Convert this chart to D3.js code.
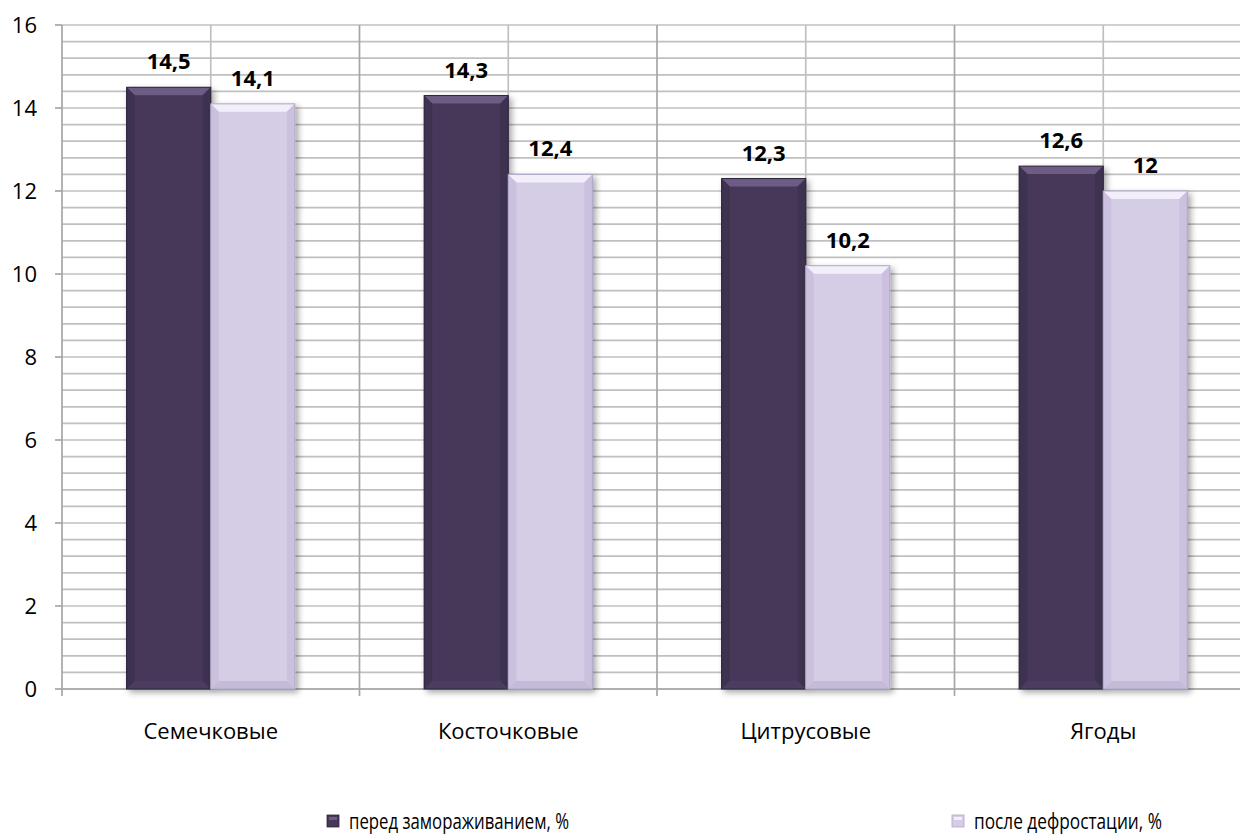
<!DOCTYPE html>
<html><head><meta charset="utf-8">
<script src="https://cdn.jsdelivr.net/npm/d3@7"></script>
<style>body{margin:0;background:#fff}svg{display:block;font-family:"Open Sans","Noto Sans",sans-serif}</style>
</head><body><svg id="c" width="1240" height="834"></svg>
<script>
const categories = ["Семечковые","Косточковые","Цитрусовые","Ягоды"];
const seriesNames = ["перед замораживанием, %","после дефростации, %"];
const beforeFreeze = [14.5,14.3,12.3,12.6];
const afterDefrost = [14.1,12.4,10.2,12];
const valueLabels = [["14,5","14,3","12,3","12,6"],["14,1","12,4","10,2","12"]];
const yTicks = [0,2,4,6,8,10,12,14,16];

const svg = d3.select("#c");
const L=62, R=1252, T=25, B=689;
const x0 = d3.scaleBand().domain(categories).range([L,R]).padding(0);
const x1 = d3.scaleBand().domain([0,1]).range([0,x0.bandwidth()]).paddingOuter(0.768).paddingInner(0);
const y = d3.scaleLinear().domain([0,16]).range([B,T]);

const defs = svg.append("defs");
const f = defs.append("filter").attr("id","sh").attr("x","-20%").attr("y","-10%").attr("width","150%").attr("height","130%");
f.append("feGaussianBlur").attr("in","SourceAlpha").attr("stdDeviation",3);
f.append("feOffset").attr("dx",3).attr("dy",3).attr("result","b");
f.append("feComponentTransfer").append("feFuncA").attr("type","linear").attr("slope",0.35);
const fm = f.append("feMerge"); fm.append("feMergeNode"); fm.append("feMergeNode").attr("in","SourceGraphic");

// minor gridlines
const minor = d3.range(0,16.001,0.4);
svg.append("g").selectAll("line").data(minor).join("line")
  .attr("x1",L).attr("x2",1240).attr("y1",d=>y(d)).attr("y2",d=>y(d))
  .attr("stroke","#c0c0c0").attr("stroke-width",1.7);
// vertical gridlines at centers and boundaries
svg.append("g").selectAll("line").data(categories).join("line")
  .attr("x1",d=>x0(d)+x0.bandwidth()/2).attr("x2",d=>x0(d)+x0.bandwidth()/2)
  .attr("y1",T).attr("y2",B).attr("stroke","#c0c0c0").attr("stroke-width",1.7);
svg.append("g").selectAll("line").data(categories.slice(1)).join("line")
  .attr("x1",d=>x0(d)).attr("x2",d=>x0(d))
  .attr("y1",T).attr("y2",B+7).attr("stroke","#a6a6a6").attr("stroke-width",1.7);
// axes
svg.append("line").attr("x1",L).attr("x2",L).attr("y1",T).attr("y2",B+7).attr("stroke","#a6a6a6").attr("stroke-width",1.7);
svg.append("line").attr("x1",L).attr("x2",1240).attr("y1",B).attr("y2",B).attr("stroke","#a6a6a6").attr("stroke-width",1.7);
svg.append("g").selectAll("line").data(yTicks).join("line")
  .attr("x1",L-7).attr("x2",L).attr("y1",d=>y(d)).attr("y2",d=>y(d)).attr("stroke","#a6a6a6").attr("stroke-width",1.7);
svg.append("g").selectAll("text").data(yTicks).join("text")
  .attr("x",37).attr("y",d=>y(d)).attr("dy","0.36em").attr("text-anchor","end")
  .attr("font-size",22).attr("fill","#000").text(d=>d);
svg.append("g").selectAll("text").data(categories).join("text")
  .attr("x",d=>x0(d)+x0.bandwidth()/2).attr("y",739).attr("text-anchor","middle")
  .attr("font-size",22).attr("fill","#000").text(d=>d);

const pal = [
  {main:"#46375a",top:"#6d5c84",side:"#3d304f",bot:"#4b3c60",edge:"#2f253d"},
  {main:"#d5cce6",top:"#f3effa",side:"#cbc1de",bot:"#c6bad9",edge:"#b3a6c8"}
];
const series=[beforeFreeze,afterDefrost];
series.forEach((vals,si)=>{
  const g = svg.append("g");
  categories.forEach((c,i)=>{
    const x = x0(c)+x1(si), w = x1.bandwidth(), yt=y(vals[i]), yb=y(0), h=yb-yt, b=8;
    const bg = g.append("g").attr("filter","url(#sh)");
    bg.append("rect").attr("x",x).attr("y",yt).attr("width",w).attr("height",h).attr("fill",pal[si].main);
    const p=pal[si];
    bg.append("polygon").attr("points",[[x,yt],[x+w,yt],[x+w-b,yt+b],[x+b,yt+b]].join(" ")).attr("fill",p.top);
    bg.append("polygon").attr("points",[[x,yt],[x+b,yt+b],[x+b,yb-b],[x,yb]].join(" ")).attr("fill",p.side);
    bg.append("polygon").attr("points",[[x+w,yt],[x+w-b,yt+b],[x+w-b,yb-b],[x+w,yb]].join(" ")).attr("fill",p.side);
    bg.append("polygon").attr("points",[[x,yb],[x+b,yb-b],[x+w-b,yb-b],[x+w,yb]].join(" ")).attr("fill",p.bot);
    bg.append("rect").attr("x",x).attr("y",yt).attr("width",w).attr("height",h).attr("fill","none").attr("stroke",p.edge).attr("stroke-width",1);
    svg.append("text").attr("x",x+w/2).attr("y",yt-18).attr("text-anchor","middle")
      .attr("font-size",22).attr("font-weight","bold").attr("fill","#000").text(valueLabels[si][i]);
  });
});

// legend
const legX=[327,952];
const legW=[220,188];
seriesNames.forEach((n,i)=>{
  const g=svg.append("g");
  g.append("rect").attr("x",legX[i]).attr("y",815).attr("width",12).attr("height",12).attr("fill",pal[i].main).attr("stroke",pal[i].edge).attr("stroke-width",0.8);
  g.append("rect").attr("x",legX[i]+2).attr("y",817).attr("width",8).attr("height",3).attr("fill",pal[i].top);
  g.append("text").attr("x",legX[i]+22).attr("y",829).attr("font-size",22)
    .attr("textLength",legW[i]).attr("lengthAdjust","spacingAndGlyphs").attr("fill","#000").text(n);
});
</script></body></html>
